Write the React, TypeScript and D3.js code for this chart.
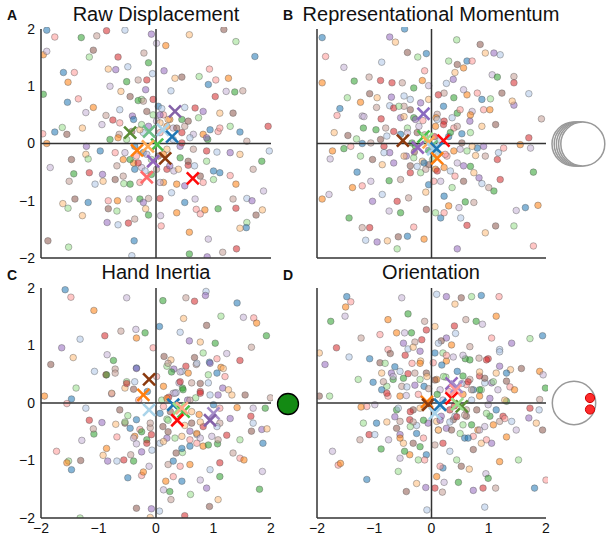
import React from "react";
import * as d3 from "d3";

type P = [number, number];

const titles = ["Raw Displacement", "Representational Momentum", "Hand Inertia", "Orientation"];
const letters = ["A", "B", "C", "D"];
const ticks = [-2, -1, 0, 1, 2];

const palette = ["#1f77b4", "#aec7e8", "#ff7f0e", "#ffbb78", "#2ca02c", "#98df8a", "#d62728", "#ff9896", "#9467bd", "#c5b0d5", "#8c564b", "#c49c94"];

const dotsA: P[] = [
[-1.90,1.98],[-1.76,1.86],[-1.96,1.55],[-1.90,1.61],[-1.30,1.85],[-1.03,1.88],[-0.86,1.97],[-0.54,1.98],[-0.08,1.91],[0.58,1.90],[1.18,1.99],[1.39,1.78],[1.72,1.52],[0.93,1.30],[0.17,1.71],[0.01,1.75],[-0.13,1.41],[-0.21,1.58],[-0.66,1.51],[-0.49,1.34],[-0.70,1.29],[-0.83,1.30],[-1.09,1.63],[-1.16,1.51],[-1.61,1.24],[-1.42,1.24],[-1.53,1.07],[-0.80,1.0],[-0.51,1.08],[-0.31,1.11],[-0.16,1.11],[-0.06,1.22],[0.14,1.27],[0.33,1.14],[0.45,1.16],[0.75,1.17],[0.91,1.03],[1.04,1.11],[1.26,1.14],[1.22,0.91],[1.37,0.90],[1.51,0.92],[1.03,0.82],[0.26,0.92],[-0.18,0.94],[-0.61,0.91],[-0.45,0.82],[-0.25,0.77],[-1.54,0.72],[-1.35,0.78],[-1.09,0.63],[-1.22,0.54],[-1.96,0.86],[-0.87,0.49],[-0.75,0.41],[-0.63,0.59],[-0.41,0.48],[-1.28,0.27],[-1.55,0.16],[-1.63,0.28],[-1.76,0.20],[-1.97,0.17],[-1.90,0.0],[-0.94,0.33],[-0.80,0.07],[-0.64,0.16],[0.68,0.62],[0.50,0.63],[0.82,0.56],[1.11,0.53],[1.34,0.53],[1.29,0.30],[1.46,0.20],[1.08,0.21],[0.82,0.16],[0.65,0.16],[0.90,0.07],[1.58,0.04],[1.95,0.30],[1.97,-0.13],[-1.21,-0.05],[-1.22,-0.19],[-1.47,-0.28],[-1.18,-0.27],[-0.97,-0.13],[-0.71,-0.16],[-0.57,-0.28],[-1.84,-0.42],[-1.43,-0.53],[-1.51,-0.66],[-1.16,-0.51],[-1.06,-0.71],[-0.93,-0.54],[-0.92,-0.66],[-0.71,-0.63],[-0.56,-0.70],[-0.37,-0.45],[-0.28,-0.68],[0.13,-0.68],[0.31,-0.48],[0.42,-0.25],[0.65,-0.10],[0.88,-0.13],[1.06,-0.15],[1.29,-0.16],[1.46,-0.19],[0.77,-0.57],[1.0,-0.63],[1.11,-0.51],[1.29,-0.56],[1.39,-0.71],[1.87,-0.83],[1.84,-0.31],[1.69,-0.45],[0.56,-0.38],[0.67,-0.39],[0.50,-0.74],[-1.62,-1.05],[-1.41,-0.97],[-1.53,-1.13],[-1.18,-1.03],[-0.83,-1.0],[-0.67,-1.0],[-0.47,-0.97],[-0.28,-0.97],[-0.13,-0.96],[0.07,-0.96],[0.27,-0.86],[-0.22,-1.03],[-0.18,-1.14],[-0.83,-1.14],[-0.68,-1.18],[0.50,-1.03],[0.70,-1.15],[0.85,-1.16],[0.68,-0.97],[1.08,-1.14],[1.34,-0.97],[1.39,-1.13],[1.58,-0.96],[1.67,-1.0],[1.85,-1.16],[1.74,-1.25],[1.58,-1.38],[1.57,-1.47],[0.77,-1.23],[0.36,-1.21],[0.08,-1.26],[-0.13,-1.25],[-0.37,-1.32],[-0.48,-1.39],[-0.66,-1.42],[-0.85,-1.38],[-1.28,-1.26],[-1.88,-1.70],[-1.52,-1.81],[-0.38,-1.70],[0.09,-1.44],[0.58,-1.55],[0.91,-1.67],[0.58,-1.93],[1.16,-1.90],[1.40,-1.84],[-0.42,-1.96],[0.89,-1.98],[1.46,-1.48],
[-0.16,0.56],[-0.05,0.50],[0.04,0.65],[0.13,0.50],[0.24,0.42],[0.30,0.27],[0.45,0.42],[0.50,0.30],[0.45,0.19],[0.30,0.07],[0.42,-0.05],[0.19,-0.10],[0.04,-0.22],[-0.08,-0.28],[-0.22,-0.16],[-0.34,-0.22],[-0.39,-0.34],[-0.25,-0.42],[-0.08,-0.54],[0.01,-0.45],[0.19,-0.45],[-0.22,0.19],[-0.13,0.30],[-0.28,0.24],[-0.42,0.21],[-0.51,0.07],[-0.37,-0.05],[0.07,0.19],[0.19,0.30],[0.01,0.39],
[-0.31,0.75],[-0.22,0.74],[-0.05,0.77],[0.10,0.61],[0.07,0.50],[0.21,0.42],[0.56,0.39],[0.74,0.45],[0.94,0.24],[1.11,0.27],[-0.66,0.10],[-0.54,-0.16],[-0.45,-0.28],[-0.68,-0.39],[-0.31,-0.34],[-0.19,-0.48],[0.24,-0.39],[0.39,-0.45],[0.56,-0.31],[0.88,-0.31],[1.0,-0.48],[0.82,-0.68],[0.36,-0.71],[0.07,-0.68],[-0.45,-0.71],[-0.57,-0.57],[0.45,0.01],[0.59,0.10],[0.88,0.10],[0.07,0.36],[0.36,0.27],[-0.25,0.33],[-0.39,0.42],[-0.63,0.36],[0.13,-0.19],[-0.16,-0.19]
];

const dotsB: P[] = [
[-1.91,1.85],[-1.85,1.52],[-1.91,1.06],[-1.53,1.33],[-1.35,1.09],[-1.09,1.16],[-0.89,1.10],[-0.87,1.42],[-0.73,1.86],[-0.63,1.77],[-0.42,1.59],[-0.24,1.51],[-0.09,1.57],[-0.12,1.27],[-0.16,1.10],[-0.05,1.01],[-0.31,0.97],[-0.51,1.06],[-0.69,1.06],[-0.48,0.83],[-0.70,0.81],[-0.95,0.80],[-1.08,0.87],[-1.47,0.80],[-1.60,0.61],[-1.65,0.49],[-1.24,0.72],[-1.21,0.48],[-1.19,0.27],[-0.96,0.63],[-0.88,0.43],[-0.73,0.66],[-0.54,0.45],[-1.70,0.19],[-1.46,0.14],[-1.31,0.08],[-1.21,0.0],[-1.41,-0.05],[-1.73,-0.13],[-1.77,-0.27],[-1.53,-0.09],[-1.06,0.01],[-0.83,-0.05],[-0.78,0.13],[-0.73,-0.16],[-0.86,-0.37],[-1.03,-0.28],[-1.24,-0.22],[-1.30,-0.50],[-1.21,-0.74],[-1.38,-0.77],[-1.06,-0.66],[-0.74,-0.65],[-0.54,-0.63],[-0.37,-0.51],[-0.25,-0.40],[-0.44,-0.22],[-0.16,-0.31],[-0.05,-0.37],[-0.19,-0.51],[-0.05,-0.72],[0.04,-0.66],[-1.91,-0.97],[-1.79,-0.89],[-1.44,-1.30],[-1.21,-1.47],[-1.08,-1.47],[-1.15,-1.69],[-0.95,-1.72],[-0.77,-1.70],[-0.58,-1.63],[-0.60,-1.84],[-0.42,-1.62],[-0.31,-1.46],[-0.13,-1.67],[-0.74,-1.18],[-0.54,-1.21],[-0.40,-0.95],[-0.60,-1.01],[-0.86,-0.89],[-1.03,-1.01],[-0.10,-0.85],[-0.09,-1.15],[0.07,-1.21],[0.16,-1.30],[0.22,-1.21],[0.30,-1.09],[0.48,-1.12],[0.59,-1.02],[0.74,-1.03],[0.62,-1.43],[0.51,-1.30],[0.45,-1.84],[0.94,-1.56],[1.12,-1.44],[1.44,-1.44],[1.64,-1.12],[1.78,-1.79],[1.86,-1.08],[1.48,-1.17],[1.09,-0.83],[1.0,-0.77],[1.20,-0.63],[0.88,-0.70],[0.83,-0.60],[0.74,-0.51],[0.56,-0.66],[0.36,-0.77],[0.22,-0.92],[0.41,-0.57],[0.22,-0.42],[0.45,-0.34],[0.68,-0.40],[0.94,-0.22],[1.15,-0.28],[1.17,-0.16],[0.91,-0.05],[0.77,-0.21],[0.53,0.01],[0.62,-0.13],[0.80,-0.08],[1.26,-0.08],[1.55,-0.02],[1.73,-0.08],[1.78,-0.50],[1.92,0.43],[1.70,0.10],[1.70,0.87],[1.44,0.67],[1.41,0.74],[1.23,0.88],[1.03,0.78],[0.88,0.77],[0.80,0.88],[0.62,0.85],[0.56,0.94],[0.39,0.80],[0.22,0.88],[0.12,0.85],[0.26,1.05],[0.38,1.12],[0.41,1.24],[0.45,1.38],[0.30,1.44],[0.62,1.44],[0.71,1.44],[0.56,1.32],[1.06,1.20],[1.15,1.16],[1.44,1.17],[1.44,1.06],[1.20,1.55],[1.09,1.58],[0.94,1.58],[0.85,1.73],[0.44,1.81],[-0.47,2.0],[0.91,0.59],[1.02,0.59],[0.71,0.56],[0.45,0.53],[0.10,0.51],[0.22,0.39],[0.36,0.45],[0.67,0.39],[0.88,0.30],[1.12,0.33],[0.68,0.19],[0.53,0.17],[0.39,0.27],[0.07,0.30],[-0.22,0.30],[-0.31,0.45],[-0.48,0.65],[-0.66,0.62],[-0.37,0.77],[-0.19,0.71],[-0.05,0.77],[-0.25,0.19],[-0.42,0.27],[-0.54,0.16],[0.27,-0.22],[0.07,-0.45],[0.16,-0.66],[-0.28,-0.05],
[-0.12,0.15],[0.05,0.12],[0.15,0.05],[-0.05,-0.12],[0.12,-0.18],[-0.30,-0.15],[0.02,-0.28],[0.30,0.12],[-0.15,0.40],[0.08,0.45],
[-1.18,0.47],[-0.97,0.24],[-0.80,0.27],[-0.66,0.21],[-0.83,-0.16],[-0.66,-0.34],[-0.48,-0.22],[-0.37,-0.39],[-0.31,-0.25],[-0.13,-0.34],[0.24,-0.19],[0.39,-0.13],[0.50,-0.10],[0.33,0.19],[0.45,0.30],[0.21,0.33],[0.10,0.42],[-0.28,0.42],[-0.48,0.47],[-0.37,0.59],[-0.57,0.65],[0.21,0.65],[0.50,0.59],[0.68,0.50],[-0.42,0.19],[-0.34,0.01],[-0.10,-0.45],[0.10,-0.48],[0.33,-0.48],[0.56,-0.39],[0.71,-0.05],[-0.89,0.07]
];

const dotsC: P[] = [
[-1.58,1.97],[-1.48,1.84],[-1.08,1.61],[-0.51,1.83],[0.12,1.78],[0.52,1.83],[0.67,1.77],[0.87,1.94],[0.86,1.87],[0.48,1.47],[0.88,1.35],[1.13,1.51],[1.41,1.74],[1.70,1.48],[1.75,1.39],[1.52,1.49],[1.92,1.17],[1.66,0.97],[1.46,0.74],[0.42,1.23],[0.58,1.08],[0.77,1.06],[0.67,0.79],[0.82,0.87],[0.93,0.71],[1.06,0.77],[1.13,0.62],[1.23,0.86],[1.03,1.04],[0.70,0.67],[0.52,0.64],[0.45,0.55],[0.31,0.59],[0.26,0.75],[0.14,0.81],[0.19,0.64],[0.06,1.33],[-0.05,0.96],[-0.34,1.13],[-0.35,1.28],[-0.19,1.22],[-0.61,1.25],[-0.89,1.17],[-1.32,1.11],[-1.64,0.96],[-1.44,0.79],[-1.83,0.67],[-1.39,0.26],[-1.47,0.07],[-1.55,-0.01],[-1.94,0.12],[-0.85,0.84],[-0.74,0.74],[-0.71,0.59],[-0.87,0.49],[-1.07,0.55],[-0.77,0.16],[-0.54,0.26],[-0.39,0.24],[-0.51,0.37],[-0.34,0.61],[0.01,0.46],[0.13,0.29],[0.30,0.17],[0.46,0.26],[0.62,0.35],[0.77,0.20],[0.91,0.35],[1.16,0.26],[1.32,0.14],[1.55,0.14],[0.69,0.09],[1.0,-0.03],[1.11,-0.09],[1.41,-0.08],[1.69,-0.09],[1.90,-0.09],[1.99,0.09],[1.65,-0.23],[1.69,-0.35],[1.84,-0.46],[1.93,-0.45],[1.66,-0.49],[1.46,-0.64],[1.86,-0.70],[1.46,-0.96],[1.53,-0.99],[1.85,-1.19],[1.80,-1.50],[1.34,-0.87],[1.11,-1.04],[0.94,-1.16],[0.88,-1.48],[1.08,-1.68],[0.93,-1.80],[0.60,-1.59],[0.45,-1.36],[0.30,-1.28],[0.17,-1.36],[0.13,-1.51],[0.24,-1.54],[0.26,-1.68],[0.50,-1.96],[0.06,-1.88],[-0.08,-1.84],[-0.10,-1.99],[-0.34,-1.83],[-1.32,-2.0],[-0.49,-1.30],[-0.25,-1.26],[-0.22,-1.20],[-0.12,-1.10],[-0.39,-1.01],[-0.44,-0.90],[-0.56,-0.99],[-0.68,-1.01],[-0.84,-1.01],[-0.92,-0.91],[-1.31,-1.00],[-1.52,-1.01],[-1.47,-1.16],[-1.73,-0.84],[-1.55,-1.04],[-1.29,-0.65],[-1.08,-0.54],[-1.09,-0.45],[-1.16,-0.30],[-1.22,-0.09],[-0.94,-0.34],[-0.70,-0.37],[-0.54,-0.35],[-0.49,-0.22],[-0.34,-0.29],[-0.28,-0.46],[-0.37,-0.58],[-0.34,-0.71],[-0.16,-0.64],[-0.10,-0.43],[-0.08,-0.55],[0.07,-0.70],[0.19,-0.61],[0.45,-0.58],[0.35,-0.87],[0.46,-0.86],[0.59,-0.75],[0.71,-0.70],[0.82,-0.75],[0.97,-0.58],[1.07,-0.71],[1.11,-0.35],[0.82,-0.41],[0.71,-0.55],[0.59,-0.49],[0.50,-0.39],[0.12,-0.41],[0.19,-0.28],[0.30,-1.01],[0.42,-1.10],[0.59,-1.07],[0.77,-1.34],[1.11,-1.28],[0.21,-1.07],
[0.22,0.10],[0.35,0.18],[0.55,0.05],[0.62,-0.15],[0.25,-0.15],[0.10,0.05],[-0.15,0.20],[-0.30,0.05],[0.75,-0.20],[0.40,0.35],
[-0.86,0.49],[-0.71,0.52],[-0.51,0.34],[-0.37,0.37],[-0.34,0.60],[-0.77,0.17],[-0.63,-0.12],[-0.54,-0.33],[-0.45,-0.44],[-0.68,-0.59],[-0.86,-0.79],[-0.39,-0.61],[-0.25,-0.50],[-0.10,-0.35],[-0.16,-0.70],[-0.07,-0.82],[-0.25,-0.85],[0.13,-0.67],[0.21,-0.50],[0.33,-0.61],[0.45,-0.79],[0.59,-0.64],[0.71,-0.53],[0.77,-0.61],[0.91,-0.73],[1.08,-0.64],[1.23,-0.56],[1.06,-0.41],[1.29,-0.27],[0.77,-0.33],[0.62,-0.35],[0.21,-0.30],[0.07,-0.18],[0.13,-0.06],[0.19,0.08],[0.33,0.17],[0.47,0.23],[0.59,0.05],[0.77,0.17],[0.94,0.14],[1.08,0.14],[1.26,0.23],[0.77,0.34],[0.91,0.49],[1.06,0.52],[1.20,0.46],[0.56,0.52],[0.42,0.54],[0.27,0.54],[0.21,0.69],[0.42,0.37],[0.71,0.69],[0.94,0.69],[1.17,0.60]
];

const dotsD: P[] = [
[-1.48,1.85],[-1.41,1.76],[-1.50,1.67],[-1.51,1.51],[-1.76,1.42],[-1.23,1.13],[-1.66,0.96],[-1.44,0.80],[-1.86,0.67],[-1.96,0.87],[-1.96,0.12],[-1.78,0.12],[-1.08,0.77],[-0.90,1.19],[-0.76,1.45],[-0.52,1.83],[-0.41,1.55],[-0.12,1.42],[-0.09,1.27],[0.09,1.89],[0.26,1.85],[0.41,1.72],[0.52,1.83],[0.70,1.85],[0.87,1.87],[1.18,1.85],[1.13,1.51],[0.89,1.37],[0.78,1.42],[0.60,1.45],[0.40,1.34],[0.42,1.21],[0.26,1.13],[0.06,1.33],[0.17,1.08],[0.20,0.87],[0.06,0.87],[0.03,0.70],[0.26,0.73],[0.38,0.80],[0.59,0.77],[0.83,0.78],[0.99,0.77],[1.19,0.93],[1.19,0.64],[1.38,0.58],[1.57,0.60],[1.72,1.12],[1.94,1.17],[1.05,1.13],[1.89,0.55],[1.95,0.49],[1.99,0.26],[1.89,0.06],[1.72,-0.09],[1.88,-0.12],[1.70,-0.26],[1.83,-0.35],[1.94,-0.47],[1.52,-0.99],[1.80,-1.48],[2.0,-1.34],[1.19,-1.02],[0.95,-1.23],[0.99,-1.31],[1.12,-1.48],[0.90,-1.48],[0.93,-1.81],[0.73,-1.52],[0.66,-1.15],[0.52,-1.10],[0.44,-0.99],[0.20,-1.13],[0.15,-1.10],[0.09,-1.28],[0.22,-1.38],[0.47,-1.38],[0.19,-1.55],[0.06,-1.48],[-0.08,-1.86],[-0.10,-1.47],[-0.26,-1.40],[-0.44,-1.54],[-0.58,-1.19],[-1.13,-1.33],[-1.63,-1.08],[-1.59,-1.05],[-1.73,-0.84],[-0.88,-0.80],[-1.25,-0.64],[-1.09,-0.55],[-0.99,-0.55],[-0.55,-0.55],[-0.49,-0.70],[-0.32,-0.70],[-0.23,-0.99],[-0.09,-0.90],[-0.12,-0.99],[-0.38,-0.90],[-0.55,-0.96],[-0.47,-0.84],[0.06,-0.73],[0.20,-0.70],[0.32,-0.84],[0.26,-0.44],[0.12,-0.47],[0.38,-0.29],[0.55,-0.38],[0.58,-0.61],[0.73,-0.58],[0.81,-0.47],[0.93,-0.41],[1.02,-0.23],[1.19,-0.32],[1.25,-0.23],[1.40,-0.32],[1.05,-0.70],[0.87,-0.70],[0.73,-0.81],[-1.19,-0.35],[-0.96,-0.35],[-1.13,-0.06],[-1.23,-0.07],[-0.99,-0.03],[-0.61,-0.12],[-0.55,-0.32],[-0.38,-0.29],[-0.26,-0.39],[-0.06,-0.35],[-0.20,-0.09],[-0.32,-0.12],[-0.78,0.29],[-0.87,0.23],[-0.76,0.12],[-0.55,0.12],[-0.44,0.13],[-0.67,0.41],[-0.52,0.29],[-0.41,0.51],[-0.55,0.55],[-0.70,0.52],[-0.87,0.52],[-0.90,0.70],[-1.28,0.41],[-1.02,0.36],[-0.76,0.93],[-0.61,1.22],[-0.47,1.22],[-0.35,1.22],[-0.29,1.06],[-0.17,1.10],[-0.41,0.94],[-0.20,0.90],[-0.19,0.73],[-0.09,0.52],[-0.20,0.41],[-0.13,0.29],[-0.23,0.15],[0.09,0.41],[0.15,0.23],[0.55,0.47],[0.67,0.41],[0.84,0.47],[0.93,0.35],[1.05,0.35],[1.13,0.52],[1.31,0.38],[0.87,0.23],[0.73,0.23],[0.61,0.32],[0.84,0.12],[0.99,-0.03],[1.31,0.03],[0.61,-0.12],[0.32,-0.12],[0.41,-0.23],[0.17,-0.23],[0.09,-0.32],[0.61,-0.23],
[0.25,0.45],[0.45,0.55],[0.30,0.20],[0.55,0.15],[0.20,0.05],[0.10,0.15],[-0.05,0.25],[0.40,-0.05],[0.70,0.05],
[-0.49,1.04],[-0.32,0.97],[-0.72,0.86],[-0.81,0.69],[-0.64,0.63],[-0.34,0.69],[-0.20,0.69],[-0.67,0.46],[-0.49,0.43],[-0.84,0.37],[-0.78,0.17],[-0.43,0.28],[-0.29,0.31],[-0.08,0.46],[0.06,0.40],[0.21,0.46],[0.18,0.66],[0.26,0.83],[0.35,1.01],[0.55,0.83],[0.67,0.75],[0.67,0.98],[0.96,0.75],[1.19,0.89],[1.40,1.04],[0.84,0.54],[0.93,0.43],[1.08,0.37],[1.31,0.52],[1.37,0.28],[1.45,0.23],[1.16,0.23],[0.84,0.23],[0.70,0.23],[0.64,0.37],[0.53,0.34],[1.02,0.08],[1.28,0.05],[0.79,-0.12],[0.96,-0.18],[1.13,-0.12],[1.28,-0.27],[1.08,-0.38],[0.84,-0.47],[0.70,-0.38],[0.58,-0.21],[0.44,-0.24],[0.32,-0.33],[0.15,-0.30],[0.12,-0.47],[0.35,-0.47],[0.50,-0.53],[0.64,-0.61],[0.96,-0.64],[1.31,-0.59],[1.48,-0.47],[-0.14,-0.30],[-0.32,-0.33],[-0.37,-0.15],[-0.58,-0.09],[-0.64,-0.24],[-0.78,-0.33],[-0.61,-0.44],[-0.37,-0.41],[-0.26,-0.53],[-0.14,-0.61],[-0.55,-0.61],[-0.75,-0.64],[-0.20,-0.76],[-0.29,0.52],[-0.46,0.83],[0.12,1.04]
];

const markerA = { x: [-0.45, -0.12, 0.12, 0.28, 0.33, 0.02, -0.14, -0.33, -0.05, 0.16, -0.16, 0.64], y: [0.19, 0.21, 0.24, 0.12, 0.56, -0.02, -0.05, -0.12, -0.31, -0.26, -0.59, -0.61],
  c: ["#5b8c36", "#6fbf8a", "#aad4ea", "#1f77b4", "#8462a8", "#4cc04c", "#ffaa55", "#ff7f0e", "#9467bd", "#8b3a0e", "#ff6b6b", "#ff0a0a"] };
const markerB = { x: [-0.14, -0.50, -0.14, -0.08, 0.0, -0.05, 0.21, -0.24, 0.03, 0.09, 0.10], y: [0.52, 0.05, 0.12, 0.08, -0.05, 0.02, 0.05, -0.07, -0.10, -0.09, -0.26],
  c: ["#8a6ac0", "#8b3a0e", "#4cc04c", "#98df8a", "#6fbf8a", "#ffaa55", "#ff0a0a", "#9467bd", "#aad4ea", "#1f77b4", "#ff7f0e"] };
const markerC = { x: [-0.12, -0.22, -0.12, 0.30, 0.40, 0.48, 0.45, 0.37, 1.0, 0.94], y: [0.41, 0.14, -0.12, -0.03, -0.10, -0.15, -0.09, -0.30, -0.18, -0.30],
  c: ["#8b3a0e", "#ff7f0e", "#aad4ea", "#1f77b4", "#98df8a", "#4cc04c", "#ffaa88", "#ff0a0a", "#a58cc8", "#8462a8"] };
const markerD = { x: [0.35, 0.44, 0.42, 0.35, -0.08, -0.06, 0.15, 0.06, 0.53, 0.45], y: [0.34, 0.28, 0.22, 0.08, 0.02, -0.03, -0.03, -0.18, -0.06, -0.02],
  c: ["#9467bd", "#a58cc8", "#ff9896", "#ff0a0a", "#ff7f0e", "#8b3a0e", "#1f77b4", "#aad4ea", "#5b8c36", "#98df8a"] };

const allDots = [dotsA, dotsB, dotsC, dotsD];
const allMarkers = [markerA, markerB, markerC, markerD];

const FONT = "'Liberation Sans', Arial, sans-serif";

const panels = [
  { x0: 41, x1: 271, y0: 29, y1: 258, yTicks: true, xTicks: false, tx: 156, ty: 21, lx: 7, ly: 20 },
  { x0: 317, x1: 546, y0: 29, y1: 258, yTicks: false, xTicks: false, tx: 431, ty: 21, lx: 283, ly: 20 },
  { x0: 41, x1: 271, y0: 288, y1: 518, yTicks: true, xTicks: true, tx: 156, ty: 279, lx: 7, ly: 280 },
  { x0: 317, x1: 546, y0: 288, y1: 518, yTicks: false, xTicks: true, tx: 431, ty: 279, lx: 283, ly: 280 },
];

function fmt(v: number) {
  return v < 0 ? "\u2212" + Math.abs(v) : String(v);
}

function Panel({ i }: { i: number }) {
  const p = panels[i];
  const xs = d3.scaleLinear().domain([-2, 2]).range([p.x0, p.x1]);
  const ys = d3.scaleLinear().domain([-2, 2]).range([p.y1, p.y0]);
  const dots = allDots[i];
  const m = allMarkers[i];
  const s = 6;
  return (
    <g>
      <defs>
        <clipPath id={`clip${i}`}>
          <rect x={p.x0} y={p.y0 - 2} width={p.x1 - p.x0 + 2} height={p.y1 - p.y0 + 2} />
        </clipPath>
      </defs>
      <g clipPath={`url(#clip${i})`}>
        {dots.map((d, k) => (
          <circle key={k} cx={xs(d[0])} cy={ys(d[1])} r={3.3}
            fill={palette[(k * 7) % palette.length]} fillOpacity={0.55}
            stroke="#555" strokeOpacity={0.5} strokeWidth={0.8} />
        ))}
      </g>
      <line x1={p.x0} x2={p.x1} y1={ys(0)} y2={ys(0)} stroke="#333" strokeWidth={1.5} />
      <line x1={xs(0)} x2={xs(0)} y1={p.y0} y2={p.y1} stroke="#333" strokeWidth={1.5} />
      <line x1={p.x0} x2={p.x0} y1={p.y0} y2={p.y1} stroke="#333" strokeWidth={1.5} />
      <line x1={p.x0} x2={p.x1} y1={p.y1} y2={p.y1} stroke="#333" strokeWidth={1.5} />
      {m.x.map((mx, k) => {
        const cx = xs(mx), cy = ys(m.y[k]);
        return (
          <g key={k} stroke={m.c[k]} strokeWidth={2.6}>
            <line x1={cx - s} y1={cy - s} x2={cx + s} y2={cy + s} />
            <line x1={cx - s} y1={cy + s} x2={cx + s} y2={cy - s} />
          </g>
        );
      })}
      {p.yTicks && ticks.map((t) => (
        <text key={"y" + t} x={p.x0 - 6} y={ys(t)} dy="0.35em" textAnchor="end" fontSize={14} fontFamily={FONT} fill="#111">{fmt(t)}</text>
      ))}
      {p.xTicks && ticks.map((t) => (
        <text key={"x" + t} x={xs(t)} y={p.y1 + 15} textAnchor="middle" fontSize={14} fontFamily={FONT} fill="#111">{fmt(t)}</text>
      ))}
      <text x={p.tx} y={p.ty} textAnchor="middle" fontSize={20} fontFamily={FONT} fill="#111">{titles[i]}</text>
      <text x={p.lx} y={p.ly} fontSize={14} fontWeight="bold" fontFamily={FONT} fill="#111">{letters[i]}</text>
    </g>
  );
}

const stackOffsets = [0, 1, 2, 3, 4];

export default function App() {
  return (
    <svg width={612} height={541} style={{ position: "absolute", left: 0, top: 0, background: "#fff" }}>
      <rect width={612} height={541} fill="#fff" />
      {[0, 1, 2, 3].map((i) => <Panel key={i} i={i} />)}
      {stackOffsets.map((k) => (
        <circle key={k} cx={574 + k * 2.2} cy={144} r={22} fill="#fff" stroke="#999" strokeWidth={1.5} />
      ))}
      <circle cx={288} cy={404} r={10.5} fill="#138a13" stroke="#000" strokeWidth={1.3} />
      <circle cx={574} cy={403} r={21.7} fill="#fff" stroke="#999" strokeWidth={1.5} />
      <circle cx={590} cy={398} r={4.6} fill="#ff2a2a" stroke="#c00" strokeWidth={1} />
      <circle cx={590} cy={409.5} r={4.6} fill="#ff2a2a" stroke="#c00" strokeWidth={1} />
    </svg>
  );
}
